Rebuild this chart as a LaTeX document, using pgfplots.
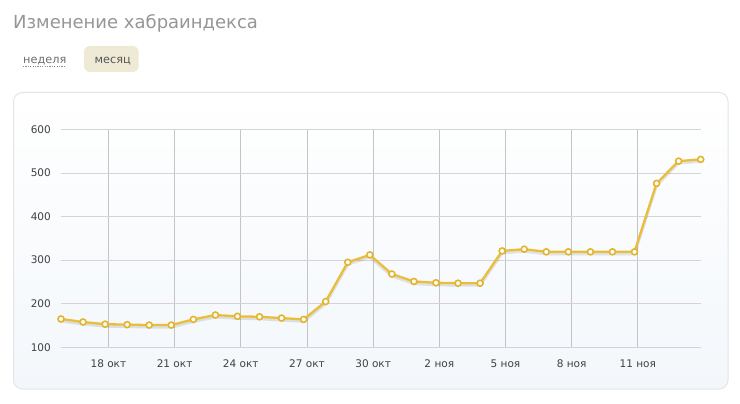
\documentclass[border=0pt]{standalone}
\usepackage{pgfplots}
\pgfplotsset{compat=1.18}
\usepackage{fontspec}
\setmainfont{DejaVu Sans}
\definecolor{linec}{RGB}{234,190,58}
\definecolor{markc}{RGB}{228,180,44}
\definecolor{titlec}{RGB}{150,150,150}
\definecolor{tickc}{RGB}{64,64,64}
\definecolor{linkc}{RGB}{110,110,110}
\definecolor{boxc}{RGB}{238,234,214}
\definecolor{boxtext}{RGB}{85,85,85}
\definecolor{panelbot}{RGB}{243,247,251}
\definecolor{panelborder}{RGB}{226,230,232}
\definecolor{hgrid}{RGB}{212,212,214}
\definecolor{vgrid}{RGB}{196,196,200}
\begin{document}
\begin{tikzpicture}[x=1pt,y=1pt]
\useasboundingbox (0,0) rectangle (740,-404);
\fill[white] (0,0) rectangle (740,-404);
\shade[top color=white,bottom color=panelbot,rounded corners=9pt] (13.5,-92.5) rectangle (728,-389);
\draw[panelborder,line width=1pt,rounded corners=9pt] (13.5,-92.5) rectangle (728,-389);
\node[anchor=base west,inner sep=0pt,text=titlec,font=\fontsize{18}{22}\selectfont] at (13,-28.7) {Изменение хабраиндекса};
\node[anchor=base west,inner sep=0pt,text=linkc,font=\fontsize{11.3}{14}\selectfont] at (23,-63.3) {неделя};
\draw[linkc!80,line width=0.8pt,dash pattern=on 1.2pt off 1.2pt] (23,-66) -- (66,-66);
\fill[boxc,rounded corners=6pt] (84,-46) rectangle (138.7,-72);
\node[anchor=base west,inner sep=0pt,text=boxtext,font=\fontsize{11.3}{14}\selectfont] at (94.5,-63.3) {месяц};
\begin{axis}[
  at={(61pt,-347.3pt)}, anchor=south west,
  scale only axis, width=639.7pt, height=218pt,
  xmin=0, xmax=29, ymin=100, ymax=600,
  clip=false,
  axis line style={draw=none},
  major tick length=0pt,
  xmajorgrids, ymajorgrids,
  x grid style={vgrid,line width=0.8pt},
  y grid style={hgrid,line width=0.8pt},
  ytick={100,200,300,400,500,600},
  xtick={2.15,5.15,8.15,11.15,14.15,17.15,20.15,23.15,26.15},
  xticklabels={18 окт,21 окт,24 окт,27 окт,30 окт,2 ноя,5 ноя,8 ноя,11 ноя},
  /pgf/number format/assume math mode=true,
  yticklabel style={anchor=east,inner sep=0pt,xshift=-10pt,text=tickc,font=\fontsize{10.5}{12}\selectfont},
  xticklabel style={anchor=base,inner sep=0pt,yshift=-20pt,text=tickc,font=\fontsize{10.5}{12}\selectfont},
]
\pgfplotstableread{
x y
0 165
1 158
2 153
3 152
4 151
5 151
6 164
7 174
8 171
9 170
10 167
11 164
12 205
13 295
14 312
15 268
16 251
17 248
18 247
19 247
20 321
21 325
22 319
23 319
24 319
25 319
26 319
27 476
28 527
29 531
}\datatable
\addplot[black,opacity=0.1,line width=3pt,yshift=-2pt,no marks] table[x=x,y=y] {\datatable};
\addplot[linec,line width=2.3pt,mark=*,mark size=3pt,mark options={fill=white,draw=markc,line width=1.6pt}] table[x=x,y=y] {\datatable};
\end{axis}
\end{tikzpicture}
\end{document}
